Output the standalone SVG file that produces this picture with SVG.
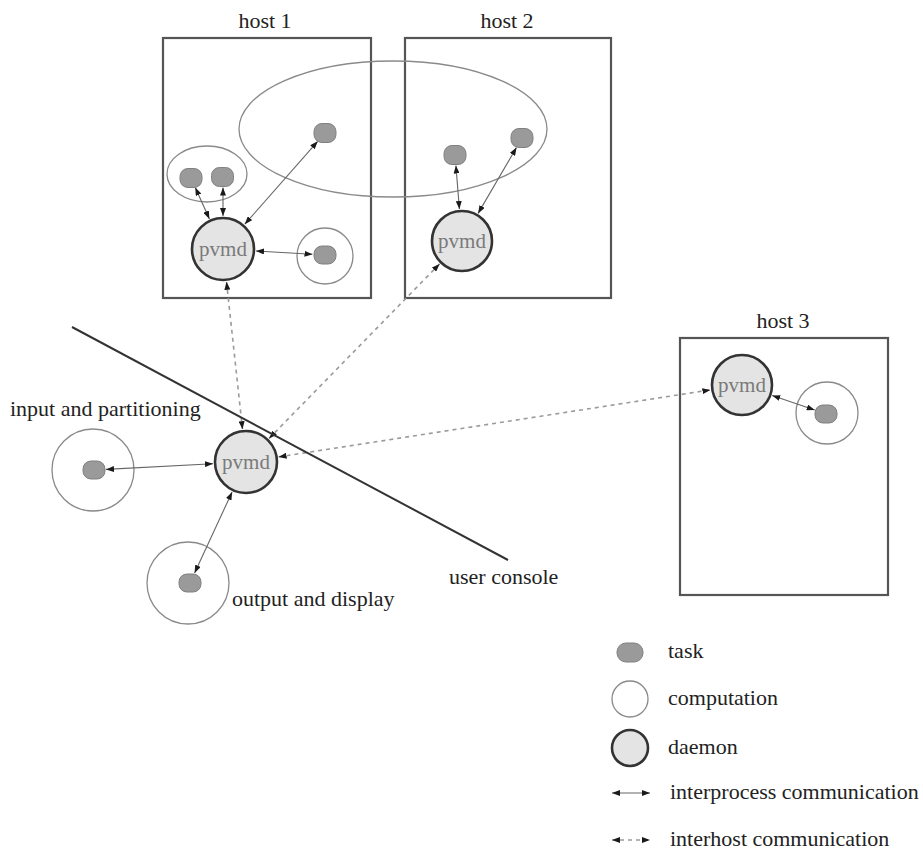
<svg xmlns="http://www.w3.org/2000/svg" width="923" height="858" viewBox="0 0 923 858">
<style>
text{font-family:"Liberation Serif","Times New Roman",serif;fill:#222;}
.lbl{font-size:22px;}
.pv{font-size:21px;fill:#7a7a7a;text-anchor:middle;}
.host{fill:none;stroke:#555;stroke-width:2.2;}
.comp{fill:none;stroke:#8a8a8a;stroke-width:1.3;}
.dae{fill:#e4e4e4;stroke:#333;stroke-width:2.6;}
.task{fill:#9a9a9a;stroke:#808080;stroke-width:1;}
.ipc{stroke:#666;stroke-width:1.1;fill:none;marker-start:url(#ah);marker-end:url(#ah);}
.ihc{stroke:#9a9a9a;stroke-width:1.6;stroke-dasharray:4 4;fill:none;marker-start:url(#ah);marker-end:url(#ah);}
</style>
<defs>
<marker id="ah" markerUnits="userSpaceOnUse" markerWidth="8" markerHeight="6" refX="8" refY="3" orient="auto-start-reverse">
<path d="M0,0 L8,3 L0,6 z" fill="#1a1a1a"/>
</marker>
</defs>
<rect width="923" height="858" fill="#fff"/>

<g id="host1">
<rect class="host" x="163" y="38" width="208" height="260"/>
<text class="lbl" x="265" y="28" text-anchor="middle">host 1</text>
</g>
<g id="host2">
<rect class="host" x="405" y="38" width="206" height="260"/>
<text class="lbl" x="507" y="28" text-anchor="middle">host 2</text>
</g>
<g id="host3">
<rect class="host" x="680" y="338" width="208" height="257"/>
<text class="lbl" x="783" y="328" text-anchor="middle">host 3</text>
</g>

<g id="comp-shared"><ellipse class="comp" cx="393" cy="129" rx="154" ry="68"/></g>
<g id="comp-pair"><ellipse class="comp" cx="207" cy="174" rx="40" ry="28"/></g>
<g id="comp-host1"><circle class="comp" cx="325" cy="256" r="28"/></g>
<g id="comp-host3"><circle class="comp" cx="827" cy="413" r="31"/></g>
<g id="comp-input"><circle class="comp" cx="93" cy="470" r="41"/></g>
<g id="comp-output"><circle class="comp" cx="188" cy="583" r="41"/></g>

<g id="connectors">
<line class="ipc" x1="209.4" y1="218.9" x2="195.3" y2="187.6"/>
<line class="ipc" x1="223" y1="216" x2="223" y2="187.5"/>
<line class="ipc" x1="244.8" y1="224.2" x2="317.7" y2="141.3"/>
<line class="ipc" x1="256" y1="251" x2="312.5" y2="254.3"/>
<line class="ipc" x1="459.4" y1="209.1" x2="455.9" y2="165.5"/>
<line class="ipc" x1="478.1" y1="213.4" x2="516.5" y2="147.5"/>
<line class="ipc" x1="772.2" y1="395.4" x2="814.7" y2="410.1"/>
<line class="ipc" x1="213" y1="463.7" x2="106" y2="469.4"/>
<line class="ipc" x1="232.1" y1="492" x2="194.6" y2="573"/>
<line class="ihc" x1="242.5" y1="429.2" x2="226.5" y2="281.8"/>
<line class="ihc" x1="269.1" y1="438.4" x2="439.6" y2="263.9"/>
<line class="ihc" x1="278.6" y1="456.9" x2="710.4" y2="389.9"/>
</g>

<g id="user-console">
<line x1="72" y1="327" x2="508" y2="560" stroke="#333" stroke-width="2"/>
<text class="lbl" x="449" y="584">user console</text>
</g>

<g id="pvmd-host1"><circle class="dae" cx="223" cy="249" r="31"/><text class="pv" x="223" y="256">pvmd</text></g>
<g id="pvmd-host2"><circle class="dae" cx="462" cy="241" r="30"/><text class="pv" x="462" y="248">pvmd</text></g>
<g id="pvmd-host3"><circle class="dae" cx="742" cy="385" r="30"/><text class="pv" x="742" y="392">pvmd</text></g>
<g id="pvmd-console"><circle class="dae" cx="246" cy="462" r="31"/><text class="pv" x="246" y="469">pvmd</text></g>

<g id="task-h1a"><rect class="task" x="180" y="168.5" width="22" height="19" rx="8"/></g>
<g id="task-h1b"><rect class="task" x="211.5" y="167.5" width="22" height="19" rx="8"/></g>
<g id="task-h1c"><rect class="task" x="314" y="123.5" width="22" height="19" rx="8"/></g>
<g id="task-h1d"><rect class="task" x="314" y="246" width="22" height="18" rx="8"/></g>
<g id="task-h2a"><rect class="task" x="444" y="145.5" width="22" height="19" rx="8"/></g>
<g id="task-h2b"><rect class="task" x="511" y="128.5" width="22" height="19" rx="8"/></g>
<g id="task-h3"><rect class="task" x="815" y="405" width="22" height="18" rx="8"/></g>
<g id="task-input"><rect class="task" x="83" y="461" width="22" height="18" rx="8"/></g>
<g id="task-output"><rect class="task" x="179" y="574" width="22" height="18" rx="8"/></g>

<g id="labels">
<text class="lbl" x="10" y="416">input and partitioning</text>
<text class="lbl" x="232" y="606">output and display</text>
</g>

<g id="legend">
<rect class="task" x="617" y="643" width="26" height="19" rx="9"/>
<text class="lbl" x="668" y="658">task</text>
<circle class="comp" cx="630" cy="699" r="18"/>
<text class="lbl" x="668" y="705">computation</text>
<circle class="dae" cx="630" cy="748" r="18"/>
<text class="lbl" x="668" y="754">daemon</text>
<line class="ipc" x1="612" y1="793" x2="650" y2="793"/>
<text class="lbl" x="670" y="799">interprocess communication</text>
<line class="ihc" x1="612" y1="840" x2="650" y2="840"/>
<text class="lbl" x="670" y="846">interhost communication</text>
</g>
</svg>
